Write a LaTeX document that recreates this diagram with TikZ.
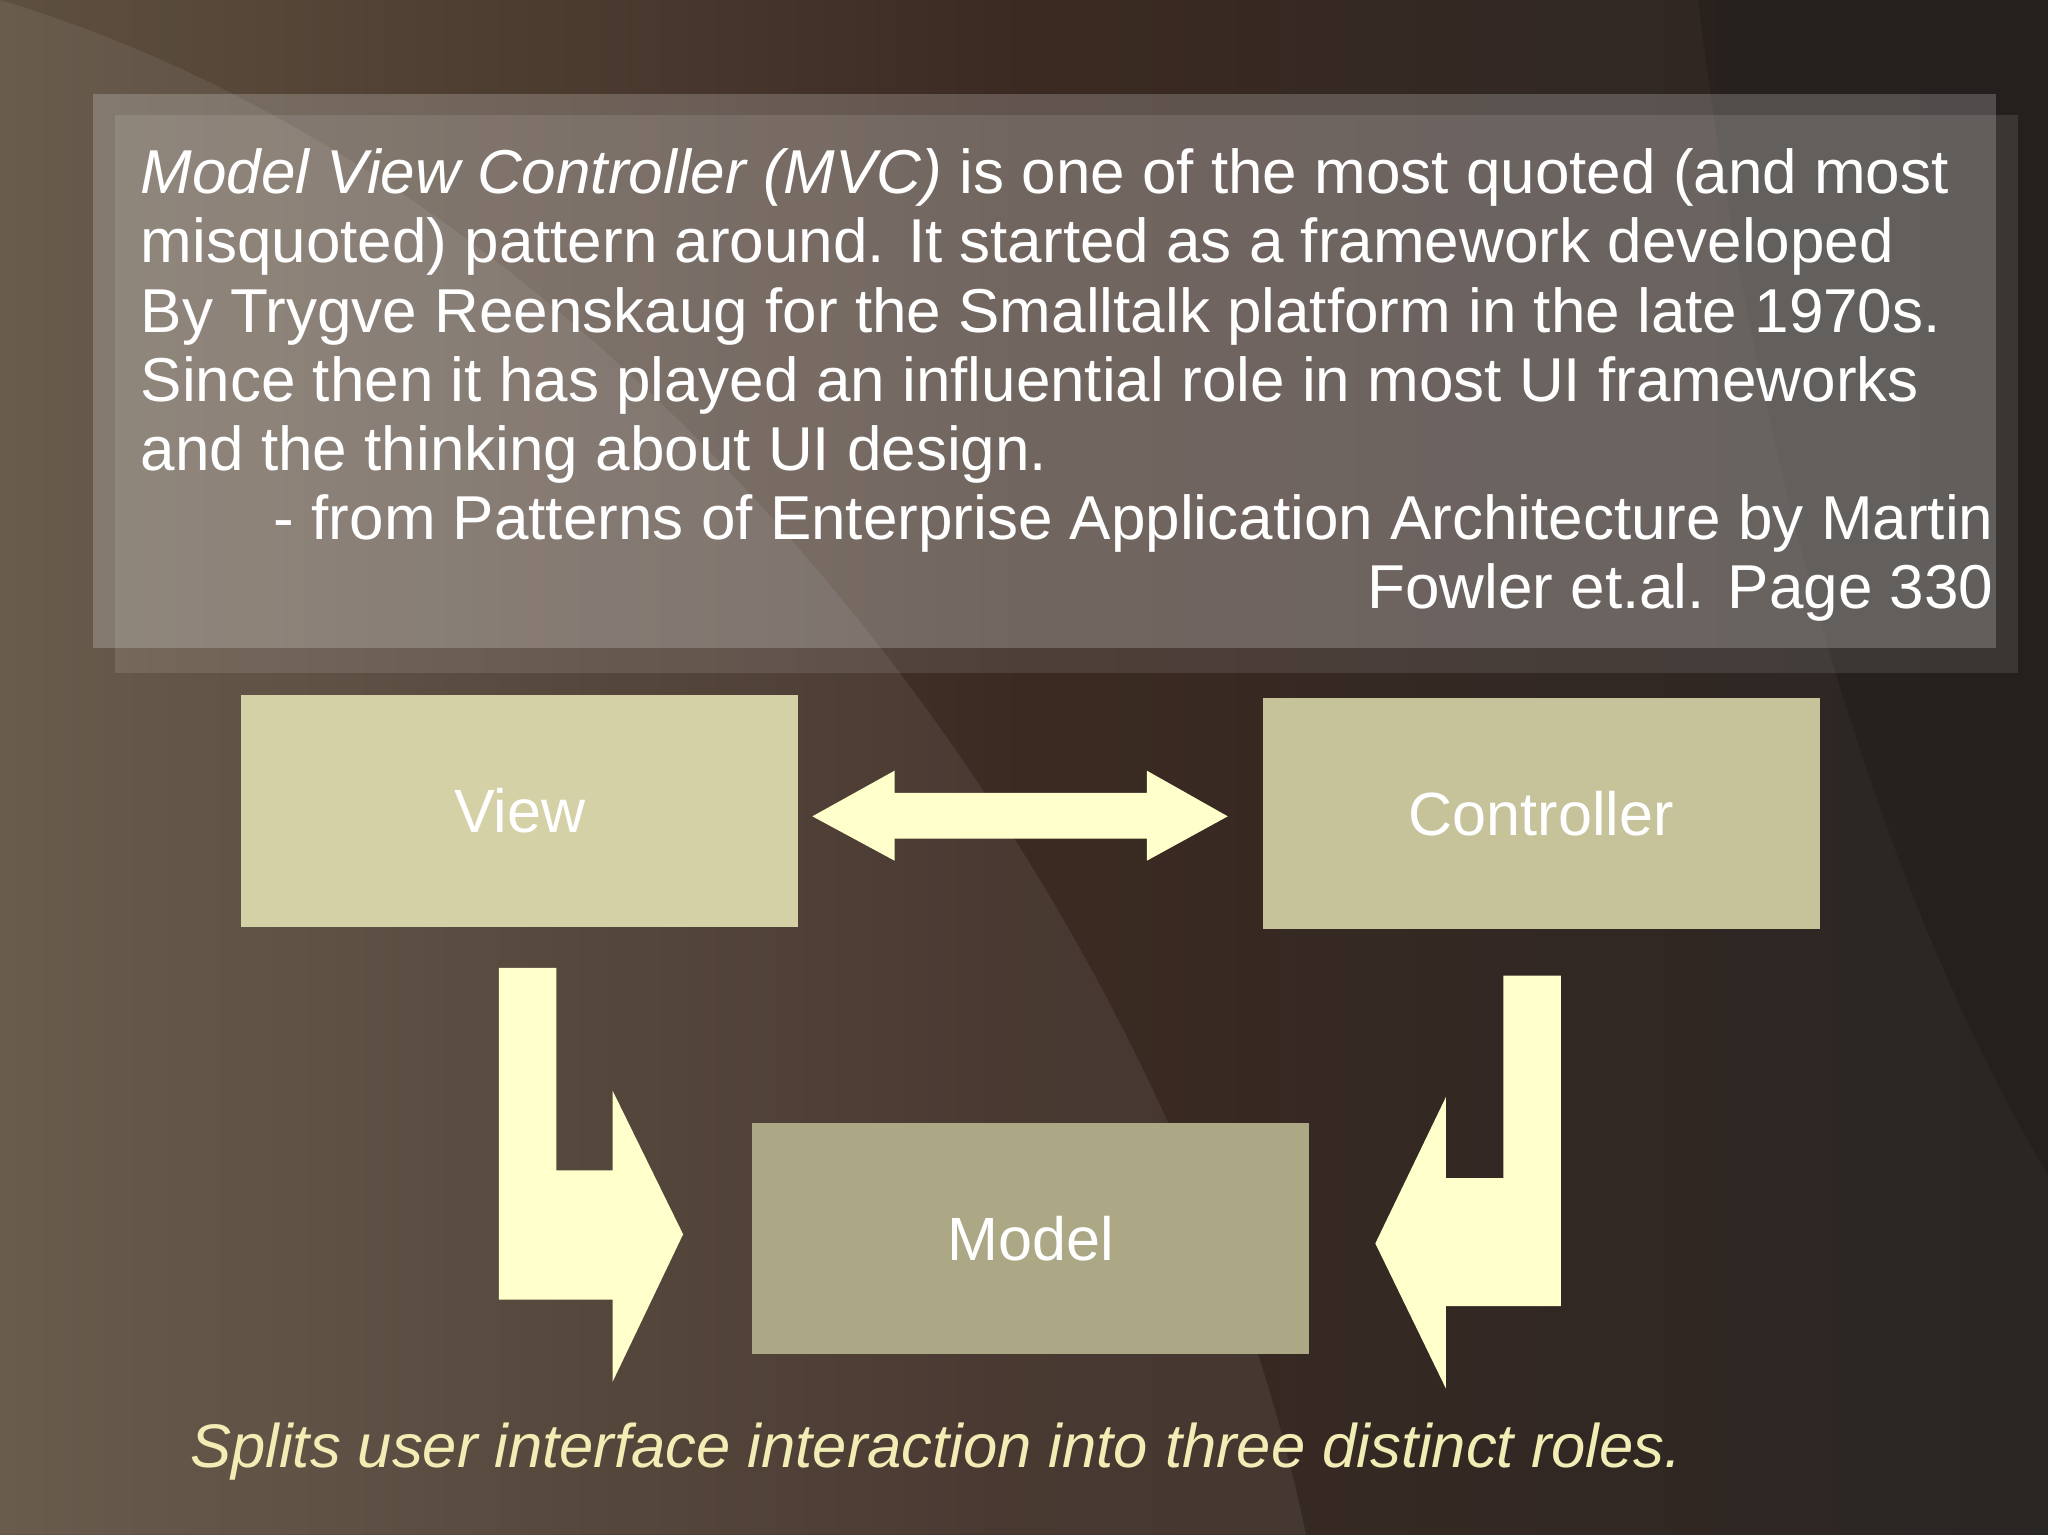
\documentclass[tikz,border=0pt]{standalone}
\usepackage{fontspec}
\setmainfont{Liberation Sans}
\definecolor{bgA}{HTML}{5E5040}
\definecolor{bgB}{HTML}{3B2A22}
\definecolor{bgC}{HTML}{2A2624}
\definecolor{boxV}{HTML}{D3D1A5}
\definecolor{boxC}{HTML}{C6C39B}
\definecolor{boxM}{HTML}{ACA886}
\definecolor{arr}{HTML}{FFFFCC}
\definecolor{cap}{HTML}{F2EDB4}
\begin{document}
\begin{tikzpicture}
    [
        x=0.01cm, y=-0.01cm,
        role/.style={draw=none, minimum width=4.26cm, minimum height=1.77cm,
            text=white, font=\fontsize{13.3}{16}\selectfont},
        bigarrow/.style={fill=arr, draw=none},
        quote/.style={text=white, inner sep=0pt, font=\fontsize{13.5}{15.1}\selectfont},
    ]

    % background
    \shade[left color=bgA, right color=bgC, middle color=bgB] (0,0) rectangle (1568,1175);
    \fill[white, opacity=0.07] (0,0) .. controls (500,150) and (900,700) .. (1000,1175) -- (0,1175) -- cycle;
    \fill[black, opacity=0.15] (1300,0) .. controls (1350,400) and (1450,700) .. (1568,900) -- (1568,0) -- cycle;
    \useasboundingbox (0,0) rectangle (1568,1175);

    % quote panel
    \fill[white, opacity=0.1] (88,88) rectangle (1545,515);
    \fill[white, opacity=0.2] (71,72) rectangle (1528,496);
    \node (quote) [quote, anchor=north west, align=left] at (107,113)
        {\textit{Model View Controller (MVC)} is one of the most quoted (and most\\
         misquoted) pattern around. It started as a framework developed\\
         By Trygve Reenskaug for the Smalltalk platform in the late 1970s.\\
         Since then it has played an influential role in most UI frameworks\\
         and the thinking about UI design.};
    \node (source) [quote, anchor=north east, align=right] at (1527,378)
        {- from Patterns of Enterprise Application Architecture by Martin\\
         Fowler et.al. Page 330};

    % roles
    \node (view)       [role, fill=boxV] at (398,621)  {View};
    \node (controller) [role, fill=boxC] at (1180,623) {Controller};
    \node (model)      [role, fill=boxM] at (789,948)  {Model};

    % arrows
    \fill[bigarrow] (622,625) -- (685,590) -- (685,607) -- (878,607) -- (878,590)
        -- (940,625) -- (878,659) -- (878,642) -- (685,642) -- (685,659) -- cycle;
    \fill[bigarrow] (382,741) -- (426,741) -- (426,896) -- (469,896) -- (469,835)
        -- (523,945) -- (469,1058) -- (469,995) -- (382,995) -- cycle;
    \fill[bigarrow] (1195,747) -- (1151,747) -- (1151,902) -- (1107,902) -- (1107,840)
        -- (1053,952) -- (1107,1063) -- (1107,1000) -- (1195,1000) -- cycle;

    % caption
    \node (caption) [anchor=west, text=cap, inner sep=0pt,
        font=\fontsize{13.4}{16}\selectfont\itshape] at (145,1111)
        {Splits user interface interaction into three distinct roles.};
\end{tikzpicture}
\end{document}
